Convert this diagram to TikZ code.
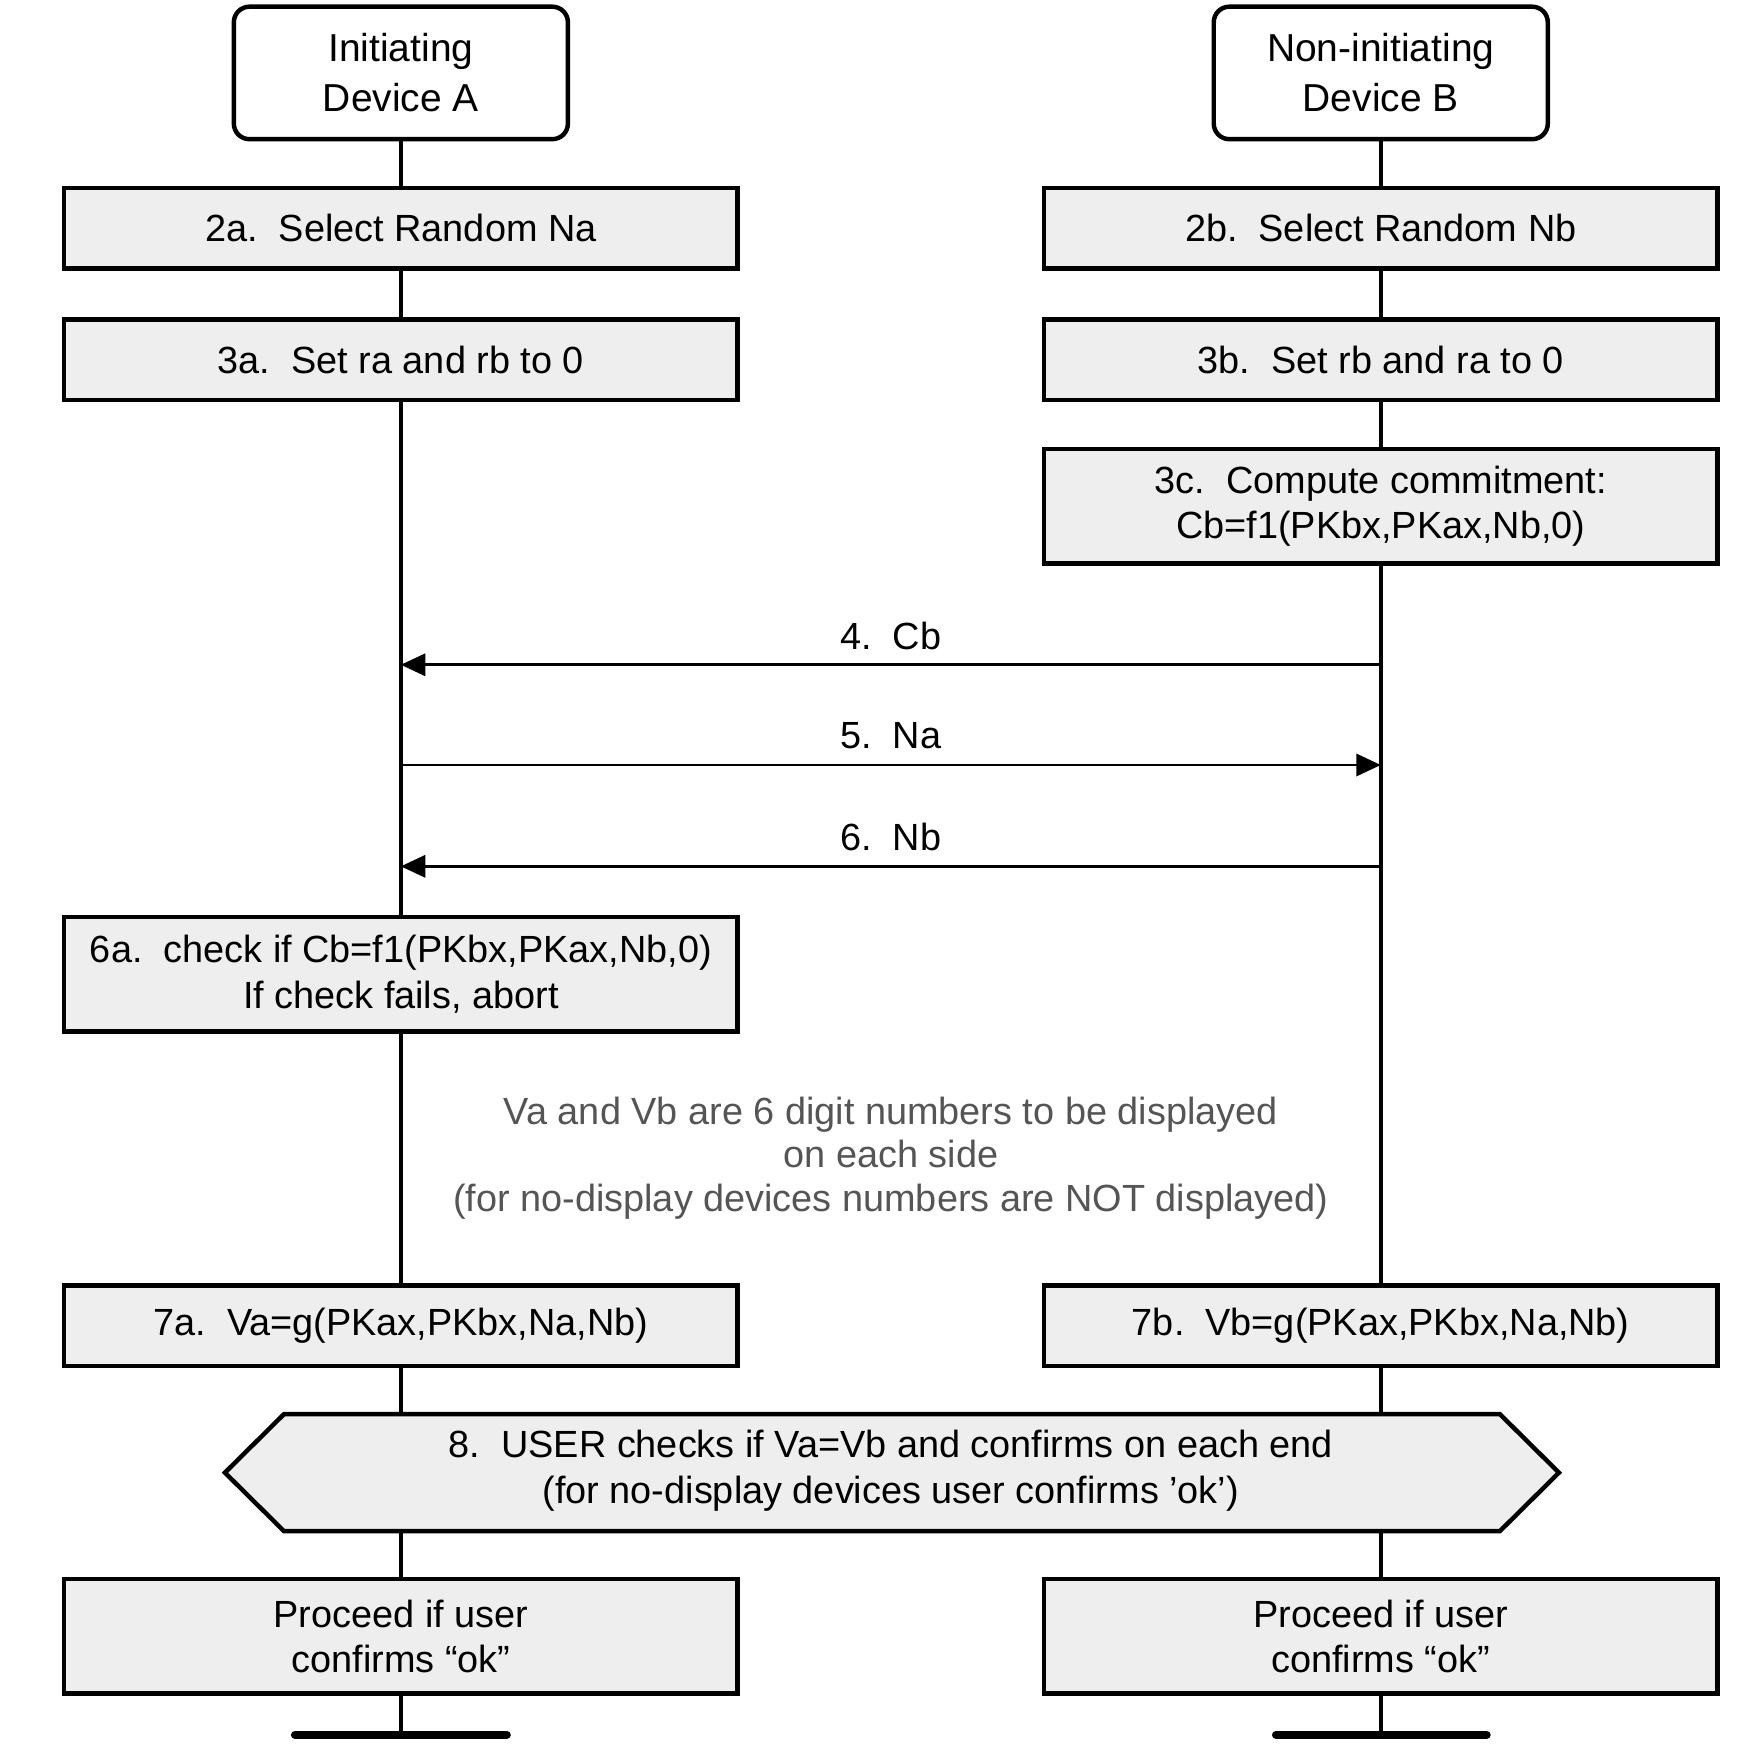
\documentclass[tikz,border=0pt]{standalone}
\usepackage{fontspec}
\setmainfont{Liberation Sans}
\usetikzlibrary{arrows.meta,backgrounds}
\definecolor{boxgray}{HTML}{EEEEEE}
\definecolor{notegray}{HTML}{555555}
\begin{document}
\begin{tikzpicture}[x=1pt,y=-1pt,
  every node/.style={inner sep=0pt, outer sep=0pt},
  devbox/.style={draw, line width=4pt, rounded corners=14pt, fill=white, minimum width=300pt, minimum height=119pt, align=center, font=\fontsize{35}{45}\selectfont},
  stepbox/.style={draw, line width=4pt, fill=boxgray, minimum width=605pt, align=center, font=\fontsize{34}{41}\selectfont},
  onebox/.style={stepbox, minimum height=72pt},
  twobox/.style={stepbox, minimum height=103pt},
  life/.style={line width=3.4pt},
  msg/.style={line width=2.4pt, -{Triangle[length=22pt,width=20pt]}},
  lbl/.style={font=\fontsize{34}{41}\selectfont},
  note/.style={text=notegray, align=center, font=\fontsize{34}{39}\selectfont},
  endbar/.style={line width=7.5pt, line cap=round}
]
\useasboundingbox (0,0) rectangle (1568,1567);

% actors
\node[devbox] (A) at (360,65.5) {Initiating\\Device A};
\node[devbox] (B) at (1240,65.5) {Non-initiating\\Device B};

% steps
\node[onebox] (s2a) at (360,205) {2a.\ \ Select Random Na};
\node[onebox] (s2b) at (1240,205) {2b.\ \ Select Random Nb};
\node[onebox] (s3a) at (360,323) {3a.\ \ Set ra and rb to 0};
\node[onebox] (s3b) at (1240,323) {3b.\ \ Set rb and ra to 0};
\node[twobox] (s3c) at (1240,454.5) {3c.\ \ Compute commitment:\\Cb=f1(PKbx,PKax,Nb,0)};
\node[twobox] (s6a) at (360,875) {6a.\ \ check if Cb=f1(PKbx,PKax,Nb,0)\\If check fails, abort};
\node[onebox] (s7a) at (360,1190.5) {7a.\ \ Va=g(PKax,PKbx,Na,Nb)};
\node[onebox] (s7b) at (1240,1190.5) {7b.\ \ Vb=g(PKax,PKbx,Na,Nb)};
\node[twobox] (pa) at (360,1469.5) {Proceed if user\\confirms “ok”};
\node[twobox] (pb) at (1240,1469.5) {Proceed if user\\confirms “ok”};

% step 8 hexagon
\draw[line width=4pt, fill=boxgray] (202,1322.5) -- (255,1270) -- (1347,1270) -- (1400,1322.5) -- (1347,1375) -- (255,1375) -- cycle;
\node[lbl, align=center] (s8) at (800,1321) {8.\ \ USER checks if Va=Vb and confirms on each end\\(for no-display devices user confirms ’ok’)};

% note
\node[note] (note) at (800,1040) {Va and Vb are 6 digit numbers to be displayed\\on each side\\(for no-display devices numbers are NOT displayed)};

% lifeline coordinates
\coordinate (endA) at (360,1558);
\coordinate (endB) at (1240,1558);
\coordinate (barAl) at (265,1558);
\coordinate (barAr) at (455,1558);
\coordinate (barBl) at (1146,1558);
\coordinate (barBr) at (1335,1558);
\coordinate (a4) at (360,597);
\coordinate (b4) at (1240,597);
\coordinate (a5) at (360,687);
\coordinate (b5) at (1240,687);
\coordinate (a6) at (360,778);
\coordinate (b6) at (1240,778);

\begin{scope}[on background layer]
\draw[life] (A.south) -- (endA);
\draw[life] (B.south) -- (endB);
\end{scope}

% messages
\draw[msg] (b4) -- (a4);
\node[lbl] (l4) at (800,571) {4.\ \ Cb};
\draw[msg] (a5) -- (b5);
\node[lbl] (l5) at (800,661) {5.\ \ Na};
\draw[msg] (b6) -- (a6);
\node[lbl] (l6) at (800,752) {6.\ \ Nb};

% end bars
\draw[endbar] (barAl) -- (barAr);
\draw[endbar] (barBl) -- (barBr);
\end{tikzpicture}
\end{document}
